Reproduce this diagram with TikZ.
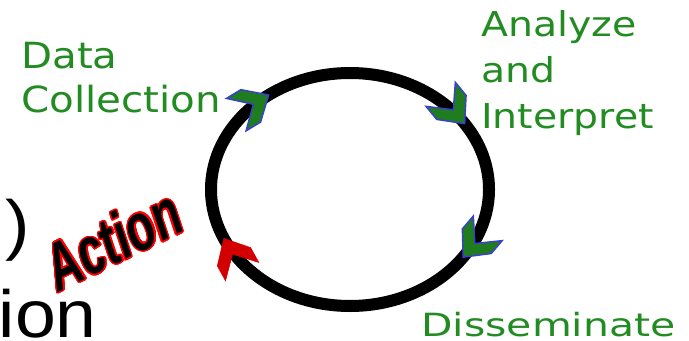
\documentclass[tikz,border=0pt]{standalone}
\usepackage{fontspec}
\usepackage{contour}
\usetikzlibrary{decorations.markings}

\newfontfamily\stagefont{DejaVu Sans}
\newfontfamily\slidefont[FakeStretch=1.1]{Liberation Sans}
\newfontfamily\actionfont[FakeStretch=0.69]{Liberation Sans}

\definecolor{leafgreen}{RGB}{34,139,34}
\definecolor{headblue}{RGB}{60,60,215}
\definecolor{actionred}{RGB}{210,0,0}

\contourlength{0.8pt}
\contournumber{24}

% head sitting on the loop: tip at the origin, pointing along x
\newcommand{\loophead}[1]{\filldraw[#1] (0,0) -- (-21,19) -- (-38,19) -- (-18,0) -- (-38,-19) -- (-21,-19) -- cycle;}

\begin{document}
\begin{tikzpicture}[x=0.02cm, y=-0.02cm,
  stage/.style={text=leafgreen, inner sep=0pt, align=left, anchor=north west},
  slide/.style={inner sep=0pt, anchor=base west,
    font={\fontsize{38}{38}\slidefont}},
  greenhead/.style={fill=leafgreen!90!black, draw=headblue, line width=0.8pt},
  redhead/.style={fill=actionred, draw=actionred, line width=0.3pt},
  loop/.style={line width=0.24cm, postaction=decorate,
    decoration={markings,
      mark=at position 0.092 with {\loophead{greenhead}},
      mark=at position 0.4365 with {\loophead{redhead}},
      mark=at position 0.644 with {\loophead{greenhead}},
      mark=at position 0.911 with {\loophead{greenhead}}}}]
\useasboundingbox (0,0) rectangle (689,341);

% left-over slide text
\node[slide] (paren) at (5,247) {)};
\node[slide] (ion) at (-1.5,337) {ion};

% stage labels
\node[stage, font={\fontsize{20.5}{24.75}\stagefont\addfontfeature{FakeStretch=1.12}}]
  (datacol) at (21,42) {Data\\Collection};
\node[stage, font={\fontsize{19.5}{26.2}\stagefont\addfontfeature{FakeStretch=1.15}}]
  (analyze) at (481,10) {Analyze\\and\\Interpret};
\node[stage, font={\fontsize{18.2}{22}\stagefont\addfontfeature{FakeStretch=1.28}}]
  (dissem) at (421,311.5) {Disseminate};

\node[rotate=26, inner sep=0pt,
  font={\fontsize{38}{38}\actionfont\bfseries\itshape}]
  (action) at (113,240) {\contour{red}{Action}};

% the cycle
\draw[loop] (350,189.5) ellipse [x radius=139, y radius=116.5];
\end{tikzpicture}
\end{document}
